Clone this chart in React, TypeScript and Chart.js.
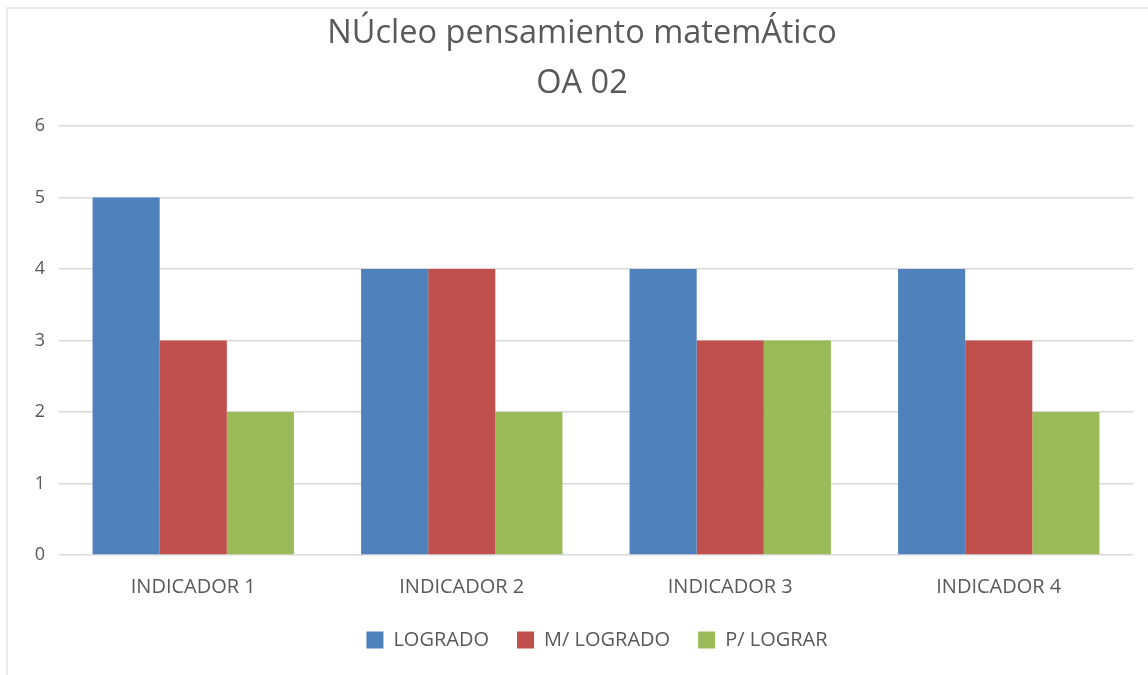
import React, { useEffect, useRef } from "react";
import { Chart, registerables } from "chart.js";

Chart.register(...registerables);

const categories = ["INDICADOR 1", "INDICADOR 2", "INDICADOR 3", "INDICADOR 4"];
const seriesNames = ["LOGRADO", "M/ LOGRADO", "P/ LOGRAR"];
const logrado = [5, 4, 4, 4];
const mLogrado = [3, 4, 3, 3];
const pLograr = [2, 2, 3, 2];
const seriesColors = ["#4F81BD", "#C0504D", "#9BBB59"];
const titleLines = ["NÚcleo pensamiento matemÁtico", "OA 02"];
const yMin = 0;
const yMax = 6;
const yStep = 1;

const FONT = "'Open Sans', 'DejaVu Sans', sans-serif";
const TEXT = "#595959";

const legendShift = {
  id: "legendShift",
  afterLayout(chart: any) {
    if (chart.legend) {
      chart.legend.left += 15;
      chart.legend.right += 15;
    }
  },
};

export default function App() {
  const ref = useRef<HTMLCanvasElement | null>(null);

  useEffect(() => {
    const canvas = ref.current;
    if (!canvas) return;
    const values = [logrado, mLogrado, pLograr];
    const chart = new Chart(canvas, {
      type: "bar",
      data: {
        labels: categories,
        datasets: seriesNames.map((name, i) => ({
          label: name,
          data: values[i],
          backgroundColor: seriesColors[i],
          borderWidth: 0,
          categoryPercentage: 0.75,
          barPercentage: 1,
        })),
      },
      plugins: [legendShift],
      options: {
        responsive: false,
        animation: false,
        devicePixelRatio: 1,
        layout: { padding: { left: 31, right: 15, top: 0, bottom: 15 } },
        plugins: {
          title: {
            display: true,
            text: titleLines,
            color: TEXT,
            font: { family: FONT, size: 32.5, weight: "normal", lineHeight: 1.53 },
            padding: { top: 9, bottom: 17.5 },
          },
          legend: {
            position: "bottom",
            labels: {
              boxWidth: 17,
              boxHeight: 17,
              padding: 28,
              color: TEXT,
              font: { family: FONT, size: 20 },
            },
          },
          tooltip: { enabled: false },
        },
        scales: {
          x: {
            grid: { display: false },
            border: { display: false },
            ticks: {
              color: TEXT,
              font: { family: FONT, size: 20 },
              padding: 12,
            },
            afterFit: (scale: any) => {
              scale.height = 47;
            },
          },
          y: {
            min: yMin,
            max: yMax,
            grid: { color: "#d9d9d9", lineWidth: 1.5, drawTicks: false },
            border: { display: false },
            ticks: {
              stepSize: yStep,
              color: TEXT,
              font: { family: FONT, size: 18 },
              padding: 14,
            },
            afterFit: (scale: any) => {
              scale.width = 28;
            },
          },
        },
      },
    });
    return () => chart.destroy();
  }, []);

  return (
    <div
      style={{
        position: "fixed",
        left: 0,
        top: 0,
        width: 1148,
        height: 675,
        background: "#ffffff",
        overflow: "hidden",
      }}
    >
      <canvas ref={ref} width={1148} height={675} style={{ width: 1148, height: 675, display: "block" }} />
      <div
        style={{
          position: "absolute",
          left: 6,
          top: 7,
          right: -2,
          bottom: -2,
          borderTop: "2px solid #ebebeb",
          borderLeft: "2px solid #ebebeb",
          pointerEvents: "none",
        }}
      />
    </div>
  );
}
